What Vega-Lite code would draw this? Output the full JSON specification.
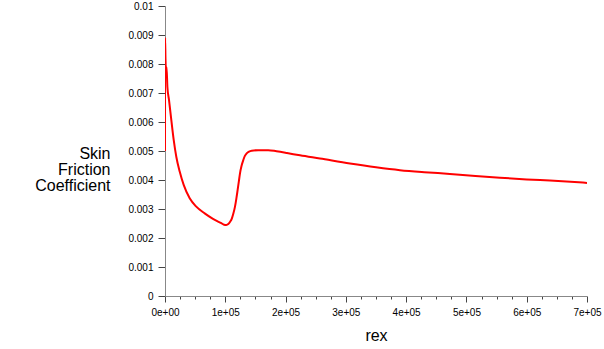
{
  "$schema": "https://vega.github.io/schema/vega-lite/v6.json",
  "width": 422,
  "height": 290,
  "autosize": "none",
  "padding": {"left": 165, "top": 6, "right": 17, "bottom": 53},
  "background": "white",
  "config": {
    "view": {"stroke": null},
    "font": "Liberation Sans",
    "axis": {
      "grid": false,
      "labelFont": "Liberation Sans",
      "titleFont": "Liberation Sans",
      "labelFontSize": 10,
      "labelColor": "#000",
      "titleColor": "#000",
      "titleFontWeight": "normal",
      "titleFontSize": 16,
      "domainColor": "#888",
      "tickColor": "#444"
    }
  },
  "data": {
    "values": [
      {"rex": 0, "cf": 0.0050},
      {"rex": 150, "cf": 0.0089},
      {"rex": 800, "cf": 0.0082},
      {"rex": 1800, "cf": 0.0077},
      {"rex": 2500, "cf": 0.0079},
      {"rex": 4000, "cf": 0.0072},
      {"rex": 6630, "cf": 0.00676},
      {"rex": 10450, "cf": 0.00607},
      {"rex": 14430, "cf": 0.00538},
      {"rex": 18740, "cf": 0.0048},
      {"rex": 24380, "cf": 0.00429},
      {"rex": 31000, "cf": 0.00383},
      {"rex": 40960, "cf": 0.00337},
      {"rex": 51900, "cf": 0.00308},
      {"rex": 65840, "cf": 0.00285},
      {"rex": 79600, "cf": 0.00266},
      {"rex": 93400, "cf": 0.00251},
      {"rex": 98000, "cf": 0.00246},
      {"rex": 101700, "cf": 0.00245},
      {"rex": 105000, "cf": 0.00248},
      {"rex": 108000, "cf": 0.00256},
      {"rex": 111000, "cf": 0.00268},
      {"rex": 113500, "cf": 0.00285},
      {"rex": 116100, "cf": 0.00308},
      {"rex": 118300, "cf": 0.00335},
      {"rex": 120500, "cf": 0.00366},
      {"rex": 122500, "cf": 0.00395},
      {"rex": 124400, "cf": 0.00423},
      {"rex": 127000, "cf": 0.00449},
      {"rex": 129900, "cf": 0.00469},
      {"rex": 132500, "cf": 0.00483},
      {"rex": 135500, "cf": 0.00492},
      {"rex": 139500, "cf": 0.00498},
      {"rex": 143800, "cf": 0.00501},
      {"rex": 154700, "cf": 0.00503},
      {"rex": 171300, "cf": 0.00503},
      {"rex": 185000, "cf": 0.00499},
      {"rex": 202300, "cf": 0.00493},
      {"rex": 223900, "cf": 0.00485},
      {"rex": 257000, "cf": 0.00474},
      {"rex": 306800, "cf": 0.00457},
      {"rex": 350000, "cf": 0.00444},
      {"rex": 389700, "cf": 0.00434},
      {"rex": 430000, "cf": 0.00427},
      {"rex": 472600, "cf": 0.00421},
      {"rex": 515000, "cf": 0.00414},
      {"rex": 555500, "cf": 0.00408},
      {"rex": 600000, "cf": 0.00402},
      {"rex": 638500, "cf": 0.00398},
      {"rex": 693200, "cf": 0.00391},
      {"rex": 700000, "cf": 0.00390}
    ]
  },
  "mark": {"type": "line", "color": "#ff0000", "strokeWidth": 2, "clip": true, "interpolate": "monotone"},
  "encoding": {
    "x": {
      "field": "rex",
      "type": "quantitative",
      "scale": {"domain": [0, 700000], "nice": false, "zero": false},
      "axis": {
        "title": "rex",
        "values": [0, 25000, 50000, 75000, 100000, 125000, 150000, 175000, 200000, 225000, 250000, 275000, 300000, 325000, 350000, 375000, 400000, 425000, 450000, 475000, 500000, 525000, 550000, 575000, 600000, 625000, 650000, 675000, 700000],
        "labelExpr": "datum.value % 100000 == 0 ? replace(format(datum.value, '.0e'), 'e+', 'e+0') : ''",
        "tickSize": {"condition": {"test": "datum.value % 100000 == 0", "value": 6}, "value": 3},
        "labelPadding": 5,
        "labelFlush": false,
        "labelOverlap": false,
        "titlePadding": 10
      }
    },
    "y": {
      "field": "cf",
      "type": "quantitative",
      "scale": {"domain": [0, 0.01], "nice": false},
      "axis": {
        "title": ["Skin", "Friction", "Coefficient"],
        "values": [0, 0.001, 0.002, 0.003, 0.004, 0.005, 0.006, 0.007, 0.008, 0.009, 0.01],
        "format": "~g",
        "tickSize": 7,
        "labelPadding": 5,
        "labelOverlap": false,
        "titleAngle": 0,
        "titleAlign": "right",
        "titleBaseline": "middle",
        "titleLineHeight": 16,
        "titleX": -55,
        "titleY": 147
      }
    },
    "order": {"value": null}
  }
}
